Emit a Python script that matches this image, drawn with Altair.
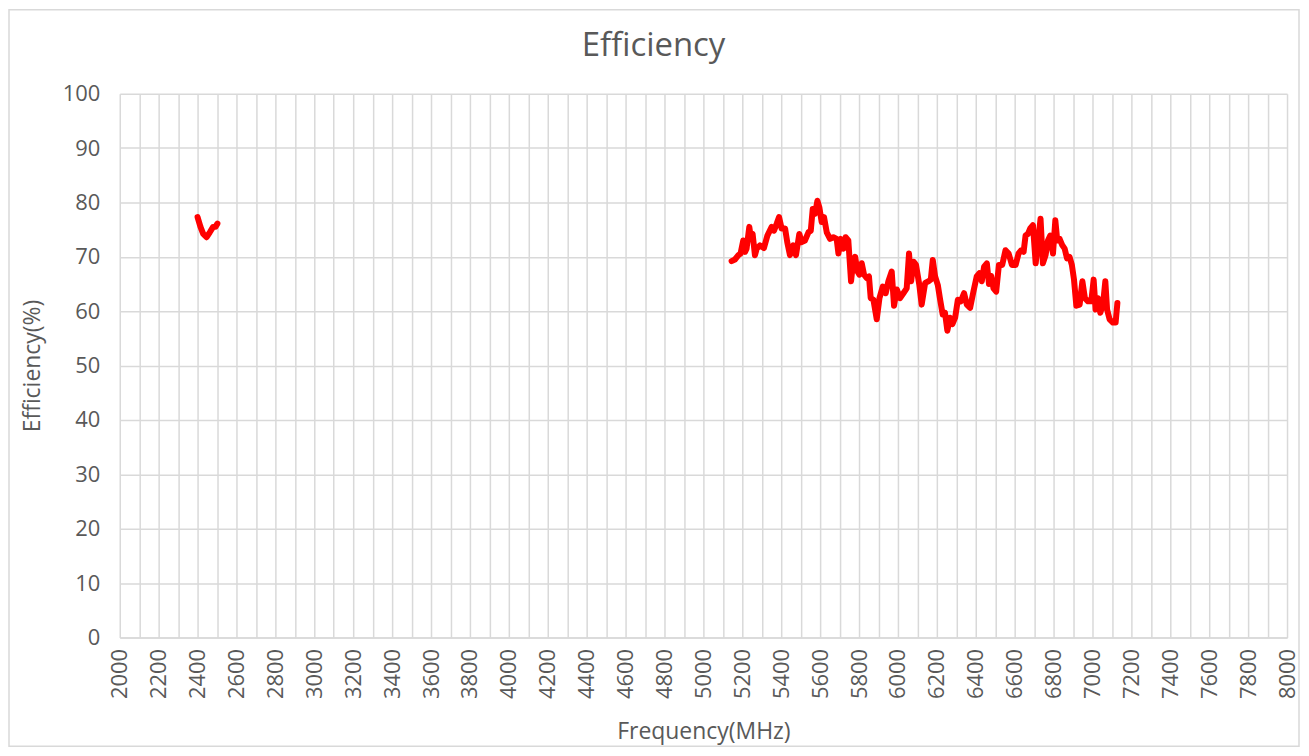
import altair as alt
import pandas as pd

# Band 1 (2.4 GHz)
freq_band1 = [2400, 2415, 2429, 2446, 2463, 2480, 2492, 2502]
eff_band1 = [77.3, 75.5, 74.2, 73.6, 74.5, 75.5, 75.5, 76.1]

# Band 2 (5-7 GHz)
freq_band2 = [5145, 5162, 5180, 5191, 5205, 5214, 5222, 5236, 5245, 5253, 5265, 5274,
              5291, 5311, 5329, 5351, 5363, 5377, 5389, 5402, 5420, 5431, 5445, 5462,
              5476, 5493, 5505, 5522, 5540, 5552, 5562, 5574, 5586, 5596, 5608, 5620,
              5634, 5651, 5668, 5685, 5694, 5706, 5720, 5731, 5745, 5759, 5768, 5780,
              5792, 5802, 5814, 5826, 5839, 5851, 5860, 5874, 5891, 5905, 5922, 5937,
              5951, 5968, 5980, 5994, 6011, 6028, 6045, 6057, 6068, 6080, 6093, 6110,
              6122, 6140, 6157, 6169, 6179, 6191, 6205, 6217, 6230, 6242, 6254, 6268,
              6280, 6294, 6308, 6323, 6340, 6354, 6371, 6388, 6405, 6419, 6431, 6443,
              6457, 6468, 6479, 6491, 6505, 6519, 6536, 6553, 6569, 6586, 6605, 6620,
              6634, 6646, 6656, 6668, 6680, 6694, 6708, 6720, 6733, 6745, 6759, 6771,
              6783, 6797, 6809, 6819, 6831, 6845, 6857, 6869, 6882, 6894, 6905, 6917,
              6934, 6948, 6961, 6977, 6994, 7006, 7016, 7028, 7040, 7054, 7066, 7075,
              7088, 7105, 7119, 7128]
eff_band2 = [69.2, 69.5, 70.3, 70.6, 73.0, 70.9, 71.5, 75.5, 73.3, 74.2, 70.3, 71.5,
             72.1, 71.6, 73.9, 75.5, 74.8, 76.1, 77.3, 75.2, 75.2, 72.7, 70.3, 72.1,
             70.3, 74.2, 72.7, 73.0, 74.5, 74.8, 78.8, 77.9, 80.3, 79.1, 76.4, 77.3,
             74.5, 73.3, 73.6, 73.3, 70.6, 73.3, 71.5, 73.6, 73.0, 65.5, 68.5, 70.0,
             67.3, 66.7, 68.8, 66.7, 66.1, 66.4, 62.4, 62.1, 58.5, 62.4, 64.5, 63.3,
             65.5, 67.3, 61.0, 64.0, 62.4, 63.3, 64.2, 70.6, 65.5, 69.1, 68.5, 64.8,
             61.2, 65.2, 65.5, 65.8, 69.4, 66.4, 64.8, 62.1, 59.4, 59.7, 56.4, 58.8,
             57.6, 58.8, 62.1, 61.8, 63.3, 61.2, 60.6, 63.6, 66.4, 67.0, 65.5, 68.2,
             68.8, 65.0, 66.5, 64.2, 63.6, 68.5, 68.5, 71.2, 70.6, 68.5, 68.5, 70.6,
             71.2, 70.9, 73.9, 74.2, 75.2, 75.8, 68.8, 72.7, 77.0, 68.8, 70.3, 73.0,
             73.9, 70.6, 76.7, 73.0, 73.3, 72.1, 71.5, 69.7, 70.0, 68.5, 65.8, 61.0,
             61.2, 65.5, 62.4, 61.8, 61.8, 65.8, 60.3, 62.4, 59.7, 61.2, 65.5, 60.3,
             58.5, 57.9, 57.9, 61.5]

x_ticks = list(range(2000, 8001, 100))
y_ticks = list(range(0, 101, 10))

df = pd.concat([
    pd.DataFrame({"freq": freq_band1, "eff": eff_band1, "band": "b1"}),
    pd.DataFrame({"freq": freq_band2, "eff": eff_band2, "band": "b2"}),
])

FONT = "Open Sans"
GRAY = "#595959"
GRID = "#d9d9d9"

W, H = 1170, 545

frame = alt.Chart(pd.DataFrame({"k": [0]})).mark_rect(
    fill="transparent", stroke=GRID, strokeWidth=1.5
).encode(
    x=alt.value(-111), x2=alt.value(W + 12),
    y=alt.value(-84), y2=alt.value(H + 109),
)

line = alt.Chart(df).mark_line(
    color="#ff0000", strokeWidth=6, strokeCap="round", strokeJoin="round", clip=True
).encode(
    x=alt.X("freq:Q",
            scale=alt.Scale(domain=[2000, 8000], nice=False, zero=False),
            axis=alt.Axis(values=x_ticks, format="d",
                          labelExpr="datum.value % 200 == 0 ? datum.label : ''",
                          labelAngle=270, labelOverlap=False,
                          labelPadding=11, title="Frequency(MHz)",
                          titlePadding=22)),
    y=alt.Y("eff:Q",
            scale=alt.Scale(domain=[0, 100], nice=False),
            axis=alt.Axis(values=y_ticks, title="Efficiency(%)",
                          labelPadding=20, titlePadding=18)),
    detail="band:N",
)

chart = alt.layer(frame, line).properties(
    width=W, height=H,
    title=alt.TitleParams("Efficiency", fontSize=33, font=FONT, color=GRAY,
                          fontWeight="normal", anchor="middle", dx=-50, dy=82,
                          offset=28),
    autosize=alt.AutoSizeParams(type="none"),
    padding={"left": 112, "top": 85, "right": 14, "bottom": 110},
).configure_view(
    stroke=None
).configure_axis(
    labelFont=FONT, titleFont=FONT, labelColor=GRAY, titleColor=GRAY,
    labelFontSize=22, titleFontSize=23, titleFontWeight="normal",
    gridColor=GRID, gridWidth=1.5, domain=False, ticks=False,
).configure_axisX(
    domain=True, domainColor=GRID, domainWidth=1.5,
)

chart.save("out.html", embed_options={"renderer": "svg", "actions": False})
